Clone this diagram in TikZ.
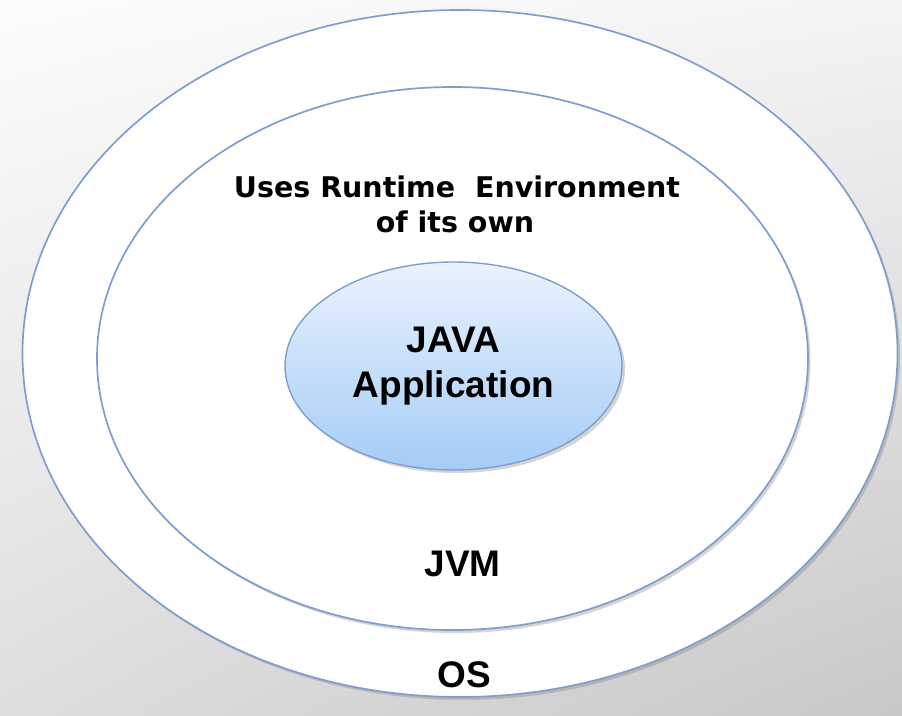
\documentclass[tikz,border=0pt]{standalone}
\usepackage{fontspec}
\setmainfont{Liberation Sans}
\newfontfamily\dejavu{DejaVu Sans}
\usetikzlibrary{shapes.geometric,shadows,shadings}
\definecolor{edgeblue}{RGB}{128,158,205}
\definecolor{blueTop}{RGB}{234,243,253}
\definecolor{blueBot}{RGB}{164,204,247}
\definecolor{bgA}{RGB}{252,252,252}
\definecolor{bgB}{RGB}{244,244,244}
\definecolor{bgC}{RGB}{222,222,222}
\definecolor{bgD}{RGB}{200,200,200}
\tikzset{
  ring/.style={ellipse, draw=edgeblue, line width=1.7pt, fill=white, inner sep=0pt,
    drop shadow={shadow xshift=2.5pt, shadow yshift=-3pt, opacity=0.3, fill=black!55}},
  appnode/.style={ellipse, draw=edgeblue, line width=1.4pt, inner sep=0pt,
    top color=blueTop, bottom color=blueBot, align=center,
    font=\bfseries\fontsize{37}{45}\selectfont,
    drop shadow={shadow xshift=3pt, shadow yshift=-3pt, opacity=0.3, fill=black!55}},
  bigtxt/.style={font=\bfseries\fontsize{37}{45}\selectfont, anchor=base, inner sep=0pt},
  usetxt/.style={font=\dejavu\bfseries\fontsize{28.5}{34}\selectfont, anchor=base, inner sep=0pt}
}
\begin{document}
\begin{tikzpicture}[x=1pt,y=-1pt]
\shade[upper left=bgA, upper right=bgB, lower left=bgC, lower right=bgD] (0,0) rectangle (902,715);
\useasboundingbox (0,0) rectangle (902,715);
\node[ring, minimum width=875pt, minimum height=687pt] (os) at (460,353.5) {};
\node[ring, minimum width=711pt, minimum height=543pt] (jvm) at (452.5,358.5) {};
\node[appnode, minimum width=337pt, minimum height=208pt] (app) at (453.5,366) {JAVA\\Application};
\node[usetxt] (uses1) at (457,197) {Uses Runtime\ \ Environment};
\node[usetxt] (uses2) at (455,232) {of its own};
\node[bigtxt] (jvmlabel) at (462.5,576) {JVM};
\node[bigtxt] (oslabel) at (464,687) {OS};
\end{tikzpicture}
\end{document}
